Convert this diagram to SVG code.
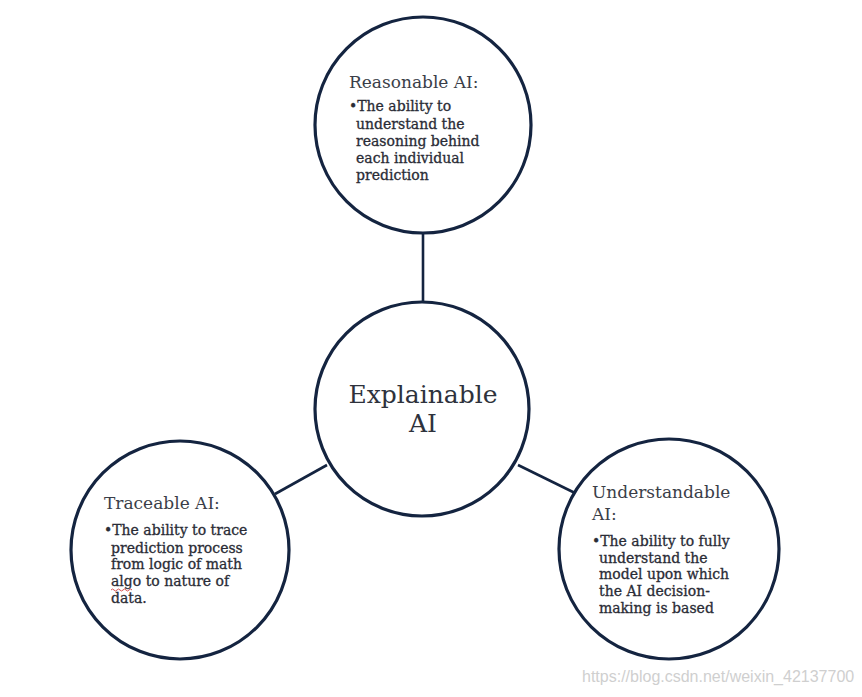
<svg xmlns="http://www.w3.org/2000/svg" width="862" height="697" viewBox="0 0 862 697">
<style>
.node{fill:#ffffff;stroke:#142440;stroke-width:3.2}
.edge{stroke:#142440;stroke-width:2.6;fill:none}
.title{font-family:"DejaVu Serif","Liberation Serif",serif;font-size:17px;fill:#3a3e48}
.body{font-family:"DejaVu Serif","Liberation Serif",serif;font-size:14px;fill:#2a2c36;stroke:#2a2c36;stroke-width:0.3}
.main{font-family:"DejaVu Serif","Liberation Serif",serif;font-size:25px;fill:#2e323c}
.wm{font-family:"Liberation Sans","DejaVu Sans",sans-serif;font-size:16px;fill:#cfcfcf}
</style>
<rect width="862" height="697" fill="#ffffff"/>
<g id="connectors">
<line class="edge" x1="423" y1="233" x2="423" y2="301"/>
<line class="edge" x1="275" y1="494" x2="327" y2="465"/>
<line class="edge" x1="518" y1="465" x2="575" y2="493"/>
</g>
<g id="reasonable">
<circle class="node" cx="423" cy="125" r="108"/>
<text class="title" x="349" y="88">Reasonable AI:</text>
<text class="body" x="349" y="111">•The ability to</text>
<text class="body" x="356" y="129">understand the</text>
<text class="body" x="356" y="146">reasoning behind</text>
<text class="body" x="356" y="163">each individual</text>
<text class="body" x="356" y="180">prediction</text>
</g>
<g id="explainable">
<circle class="node" cx="422" cy="409" r="107"/>
<text class="main" x="423" y="403" text-anchor="middle">Explainable</text>
<text class="main" x="423" y="432" text-anchor="middle">AI</text>
</g>
<g id="traceable">
<circle class="node" cx="180" cy="550" r="109"/>
<text class="title" x="104" y="509">Traceable AI:</text>
<text class="body" x="104" y="535">•The ability to trace</text>
<text class="body" x="111" y="553">prediction process</text>
<text class="body" x="111" y="569">from logic of math</text>
<text class="body" x="111" y="586">algo to nature of</text>
<text class="body" x="111" y="603">data.</text>
<path d="M111,590 q1.5,-2 3,0 t3,0 t3,0 t3,0 t3,0 t3,0 t3,0" fill="none" stroke="#d04040" stroke-width="0.9"/>
</g>
<g id="understandable">
<circle class="node" cx="669" cy="549" r="110"/>
<text class="title" x="592" y="498">Understandable</text>
<text class="title" x="592" y="520">AI:</text>
<text class="body" x="592" y="546">•The ability to fully</text>
<text class="body" x="599" y="563">understand the</text>
<text class="body" x="599" y="579">model upon which</text>
<text class="body" x="599" y="596">the AI decision-</text>
<text class="body" x="599" y="613">making is based</text>
</g>
<text class="wm" x="582" y="682">https://blog.csdn.net/weixin_42137700</text>
</svg>
